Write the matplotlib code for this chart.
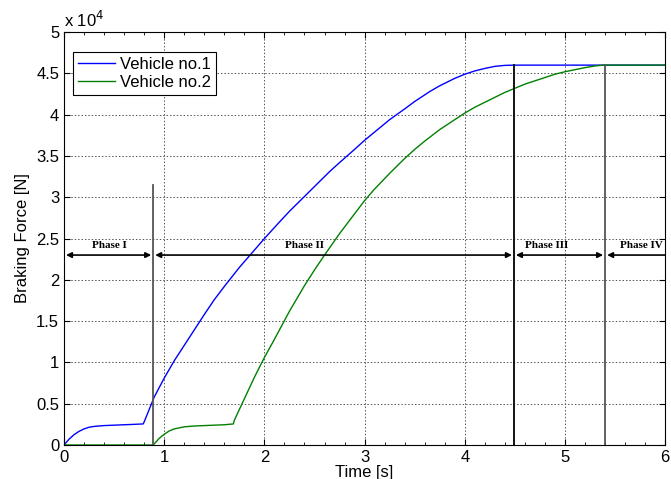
import numpy as np
import matplotlib.pyplot as plt
from matplotlib.ticker import MultipleLocator

plt.rcParams["font.family"] = ["Liberation Sans", "DejaVu Sans"]

# Vehicle no.1 braking force (time [s], force [N])
t1 = [0.0, 0.05, 0.1, 0.15, 0.2, 0.25, 0.3, 0.4, 0.5, 0.6, 0.7, 0.79, 0.8,
      0.85, 0.9, 1.0, 1.1, 1.25, 1.4, 1.5, 1.6, 1.75, 1.9, 2.0, 2.15, 2.25,
      2.4, 2.5, 2.65, 2.75, 2.9, 3.0, 3.15, 3.25, 3.4, 3.5, 3.65, 3.75,
      3.9, 4.0, 4.1, 4.2, 4.3, 4.4, 4.5, 6.0]
f1 = [0, 700, 1250, 1650, 1950, 2150, 2250, 2350, 2400, 2450, 2500, 2550,
      2800, 4300, 5800, 8100, 10200, 13000, 15800, 17600, 19200, 21500,
      23600, 25000, 27000, 28300, 30100, 31300, 33100, 34200, 35800, 36900,
      38400, 39400, 40700, 41600, 42800, 43500, 44400, 44900, 45300, 45600,
      45850, 45970, 46000, 46000]

# Vehicle no.2 braking force
t2 = [0.0, 0.89, 0.95, 1.0, 1.05, 1.1, 1.2, 1.3, 1.4, 1.5, 1.6, 1.69, 1.7,
      1.8, 1.9, 2.0, 2.1, 2.25, 2.4, 2.5, 2.6, 2.75, 2.9, 3.0, 3.1, 3.25,
      3.4, 3.5, 3.6, 3.75, 3.9, 4.0, 4.1, 4.25, 4.4, 4.5, 4.6, 4.75, 4.9,
      5.0, 5.1, 5.2, 5.3, 5.38, 6.0]
f2 = [0, 0, 800, 1300, 1700, 1950, 2200, 2300, 2350, 2400, 2450, 2550, 3000,
      5600, 8200, 10600, 12800, 16200, 19300, 21200, 23000, 25600, 28000,
      29600, 31000, 32900, 34700, 35800, 36800, 38200, 39400, 40200, 40900,
      41800, 42700, 43200, 43700, 44300, 44900, 45200, 45450, 45700, 45900,
      46000, 46000]

# phase boundaries and labels
bounds = [0.0, 0.89, 4.49, 5.40, 6.0]
phase_labels = ["Phase I", "Phase II", "Phase III", "Phase IV"]
label_x = [0.45, 2.4, 4.82, 5.76]
marker_tops = [31500, 46000, 46000]
arrow_y = 23000


def main():
    fig = plt.figure(figsize=(6.71, 4.79), dpi=100)
    ax = fig.add_axes([0.0954, 0.071, 0.896, 0.862])

    ax.plot(t1, f1, color="#0000ff", lw=1.0, label="Vehicle no.1")
    ax.plot(t2, f2, color="#008000", lw=1.0, label="Vehicle no.2")

    colors = ["#555555", "black", "#555555"]
    for x, top, c in zip(bounds[1:4], marker_tops, colors):
        ax.plot([x, x], [0, top], color=c, lw=1.3, zorder=3)

    for i, lab in enumerate(phase_labels):
        a, b = bounds[i], bounds[i + 1]
        gap = 0.02
        if i == 3:
            ax.annotate("", xy=(a + gap, arrow_y), xytext=(b, arrow_y),
                        arrowprops=dict(arrowstyle="-|>", color="black",
                                        lw=1.2, mutation_scale=8,
                                        shrinkA=0, shrinkB=0))
        else:
            ax.annotate("", xy=(a + gap, arrow_y), xytext=(b - gap, arrow_y),
                        arrowprops=dict(arrowstyle="<|-|>", color="black",
                                        lw=1.2, mutation_scale=8,
                                        shrinkA=0, shrinkB=0))
        ax.text(label_x[i], arrow_y + 600, lab, ha="center", va="bottom",
                fontsize=8, fontweight="bold", family="Liberation Serif")

    ax.set_xlim(0, 6)
    ax.set_ylim(0, 50000)
    ax.xaxis.set_major_locator(MultipleLocator(1))
    ax.xaxis.set_minor_locator(MultipleLocator(0.2))
    ax.set_yticks(np.arange(0, 50001, 5000))
    ax.set_yticklabels(["0", "0.5", "1", "1.5", "2", "2.5", "3", "3.5",
                        "4", "4.5", "5"])
    ax.tick_params(which="both", direction="in", top=True, right=True,
                   labelsize=12)
    ax.tick_params(which="major", length=4)
    ax.tick_params(which="minor", length=2)
    ax.text(0.0, 1.005, r"x 10$^4$", transform=ax.transAxes, fontsize=12,
            ha="left", va="bottom")

    ax.grid(True, which="major", ls=(0, (1.5, 2)), color="#555555", lw=0.7)
    ax.set_xlabel("Time [s]", fontsize=12, labelpad=0)
    ax.set_ylabel("Braking Force [N]", fontsize=12)

    leg = ax.legend(loc="upper left", bbox_to_anchor=(0.01, 0.96),
                    fontsize=12, fancybox=False, framealpha=1,
                    edgecolor="black", handlelength=2.2, handletextpad=0.3,
                    borderpad=0.3, labelspacing=0.2, borderaxespad=0.2)
    leg.get_frame().set_linewidth(0.8)

    fig.savefig("out.png", dpi=100)
    plt.close(fig)


if __name__ == "__main__":
    main()
